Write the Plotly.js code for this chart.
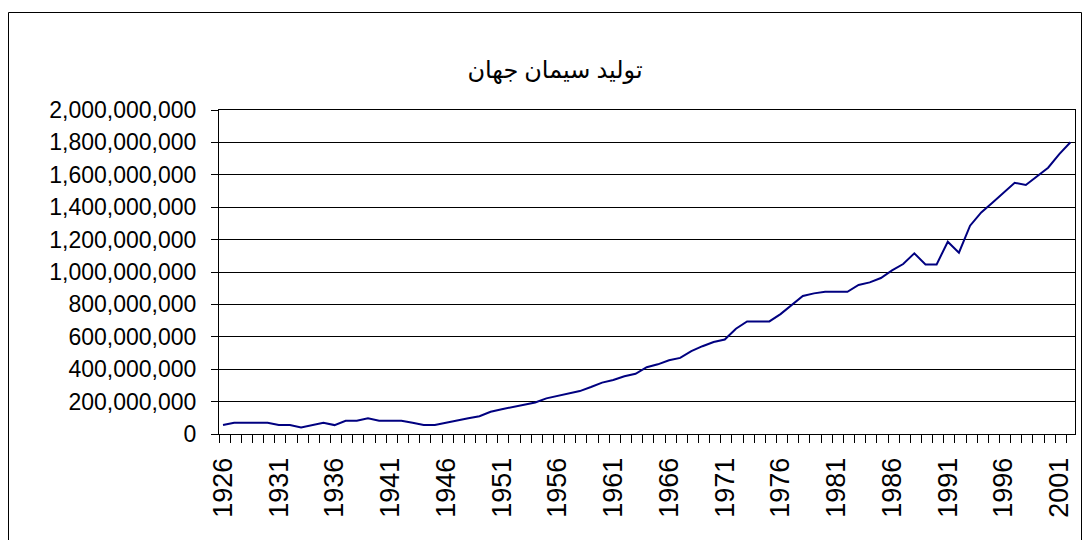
<!DOCTYPE html>
<html>
<head>
<meta charset="utf-8">
<script src="https://cdn.plot.ly/plotly-3.0.1.min.js"></script>
<style>html,body{margin:0;padding:0;background:#fff;}#chart{width:1083px;height:540px;}</style>
</head>
<body>
<div id="chart"></div>
<script>
// Data (in tonnes)
var years = [1926,1927,1928,1929,1930,1931,1932,1933,1934,1935,1936,1937,1938,1939,1940,1941,1942,1943,1944,1945,1946,1947,1948,1949,1950,1951,1952,1953,1954,1955,1956,1957,1958,1959,1960,1961,1962,1963,1964,1965,1966,1967,1968,1969,1970,1971,1972,1973,1974,1975,1976,1977,1978,1979,1980,1981,1982,1983,1984,1985,1986,1987,1988,1989,1990,1991,1992,1993,1994,1995,1996,1997,1998,1999,2000,2001,2002];
var productionMillions = [55,70,70,70,70,55,55,40,55,70,55,82,82,97,82,82,82,70,55,55,70,82,97,110,137,153,168,179,195,220,235,248,265,290,317,333,356,372,412,430,455,470,512,542,568,583,650,695,695,695,740,797,852,868,878,878,878,920,936,963,1010,1049,1115,1047,1047,1187,1119,1286,1368,1428,1492,1551,1537,1588,1644,1728,1801];
var labelYears = [1926,1931,1936,1941,1946,1951,1956,1961,1966,1971,1976,1981,1986,1991,1996,2001];
var titleText = 'تولید سیمان جهان';

var production = productionMillions.map(function(v){return v*1e6;});

var trace = {
  x: years, y: production, type: 'scatter', mode: 'lines',
  line: {color: '#000080', width: 2},
  hoverinfo: 'x+y'
};

var W = 1083, H = 540;
var L = 219, R = 8, T = 110, B = 106;
var pw = W - L - R, ph = H - T - B;
function px(x){ return (x - L) / pw; }
function py(y){ return (H - B - y) / ph; }

var layout = {
  width: W, height: H,
  margin: {l: L, r: R, t: T, b: B, pad: 0},
  paper_bgcolor: '#ffffff', plot_bgcolor: '#ffffff',
  showlegend: false,
  title: {
    text: titleText,
    font: {family: '"Times New Roman", "Liberation Serif", "DejaVu Sans", serif', size: 24, color: '#000'},
    x: 555 / W, xref: 'container', xanchor: 'center',
    y: 1 - 70 / H, yref: 'container', yanchor: 'middle'
  },
  xaxis: {
    range: [1925.64, 2002.41],
    tickmode: 'array', tickvals: labelYears, ticktext: labelYears.map(String),
    ticks: '', tickangle: -90,
    tickfont: {family: '"Liberation Sans", Arial, sans-serif', size: 27, color: '#000'},
    ticklabelstandoff: 12,
    showgrid: false, zeroline: false,
    showline: true, linecolor: '#000', linewidth: 1, mirror: true,
    minor: {tick0: 1925.64, dtick: 1, ticks: 'outside', ticklen: 8, tickcolor: '#000', tickwidth: 1, showgrid: false}
  },
  yaxis: {
    range: [0, 2e9], dtick: 2e8, tick0: 0,
    tickformat: ',d',
    ticks: 'outside', ticklen: 7, tickcolor: '#000', tickwidth: 1,
    tickfont: {family: '"Liberation Sans", Arial, sans-serif', size: 23, color: '#000'},
    ticklabelstandoff: 10,
    showgrid: true, gridcolor: '#000', gridwidth: 1,
    zeroline: false,
    showline: true, linecolor: '#000', linewidth: 1, mirror: true
  },
  shapes: [{
    type: 'rect', xref: 'paper', yref: 'paper',
    x0: px(8.5), x1: px(1081.5), y0: py(560), y1: py(12.5),
    line: {color: '#000', width: 1}, fillcolor: 'rgba(0,0,0,0)', layer: 'below'
  }]
};

Plotly.newPlot('chart', [trace], layout, {displayModeBar: false, staticPlot: true});
</script>
</body>
</html>
